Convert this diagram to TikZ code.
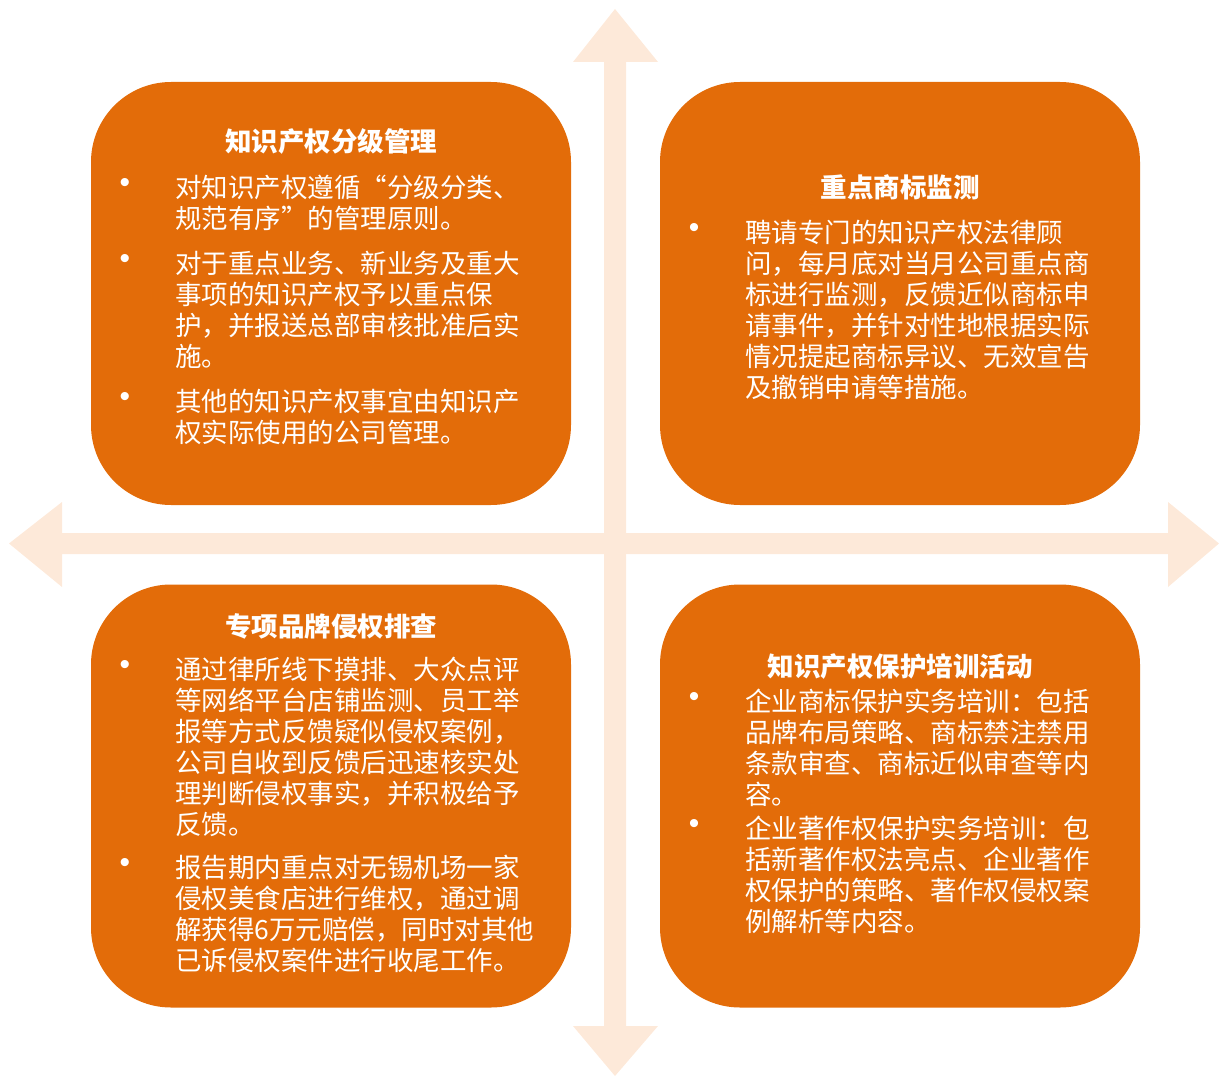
\documentclass[tikz,border=0pt]{standalone}
\usepackage{fontspec}
\setmainfont{Noto Sans CJK SC}
\newfontfamily\dotfont{Liberation Sans}
\definecolor{boxorange}{HTML}{E36C09}
\definecolor{arrowpeach}{HTML}{FDE9D9}

\begin{document}
\begin{tikzpicture}
	[x=1pt,y=-1pt,
	every node/.style={text=white,inner sep=0pt},
	quadrant/.style={fill=boxorange,rounded corners=80pt,minimum width=480pt,minimum height=423pt},
	heading/.style={font=\fontsize{26.5}{31}\selectfont\bfseries},
	bodytext/.style={anchor=north west,align=left,font=\fontsize{26.5}{31}\selectfont},
	dot/.style={font=\dotfont\fontsize{30}{30}\selectfont}]
	
	\useasboundingbox (0,0) rectangle (1219,1078);
	
	% the two double arrows
	\fill[arrowpeach] (615,9) -- (658,62) -- (626,62) -- (626,1026) -- (658,1026) -- (615,1076)
		-- (573,1026) -- (604,1026) -- (604,62) -- (573,62) -- cycle;
	\fill[arrowpeach] (9,543.5) -- (62,502) -- (62,533) -- (1168,533) -- (1168,502) -- (1219,543.5)
		-- (1168,587) -- (1168,554) -- (62,554) -- (62,587) -- cycle;
	
	\node[quadrant] (tlbox) at (331,293.5) {};
	\node[quadrant] (trbox) at (900,293.5) {};
	\node[quadrant] (blbox) at (331,796) {};
	\node[quadrant] (brbox) at (900,796) {};
	
	% top left
	\node[heading] (tltitle) at (331,141) {知识产权分级管理};
	\node[dot] (tldotone) at (125,185) {•};
	\node[bodytext] (tlone) at (175,175) {对知识产权遵循“分级分类、\\规范有序”的管理原则。};
	\node[dot] (tldottwo) at (125,261) {•};
	\node[bodytext] (tltwo) at (175,251) {对于重点业务、新业务及重大\\事项的知识产权予以重点保\\护，并报送总部审核批准后实\\施。};
	\node[dot] (tldotthree) at (125,399) {•};
	\node[bodytext] (tlthree) at (175,389) {其他的知识产权事宜由知识产\\权实际使用的公司管理。};
	
	% top right
	\node[heading] (trtitle) at (900,187) {重点商标监测};
	\node[dot] (trdotone) at (694,230) {•};
	\node[bodytext] (trone) at (745,220) {聘请专门的知识产权法律顾\\问，每月底对当月公司重点商\\标进行监测，反馈近似商标申\\请事件，并针对性地根据实际\\情况提起商标异议、无效宣告\\及撤销申请等措施。};
	
	% bottom left
	\node[heading] (bltitle) at (331,626) {专项品牌侵权排查};
	\node[dot] (bldotone) at (125,667) {•};
	\node[bodytext] (blone) at (175,657) {通过律所线下摸排、大众点评\\等网络平台店铺监测、员工举\\报等方式反馈疑似侵权案例，\\公司自收到反馈后迅速核实处\\理判断侵权事实，并积极给予\\反馈。};
	\node[dot] (bldottwo) at (125,865) {•};
	\node[bodytext] (bltwo) at (175,855) {报告期内重点对无锡机场一家\\侵权美食店进行维权，通过调\\解获得6万元赔偿，同时对其他\\已诉侵权案件进行收尾工作。};
	
	% bottom right
	\node[heading] (brtitle) at (900,667) {知识产权保护培训活动};
	\node[dot] (brdotone) at (694,699) {•};
	\node[bodytext] (brone) at (745,689) {企业商标保护实务培训：包括\\品牌布局策略、商标禁注禁用\\条款审查、商标近似审查等内\\容。};
	\node[dot] (brdottwo) at (694,826) {•};
	\node[bodytext] (brtwo) at (745,816) {企业著作权保护实务培训：包\\括新著作权法亮点、企业著作\\权保护的策略、著作权侵权案\\例解析等内容。};
\end{tikzpicture}
\end{document}
